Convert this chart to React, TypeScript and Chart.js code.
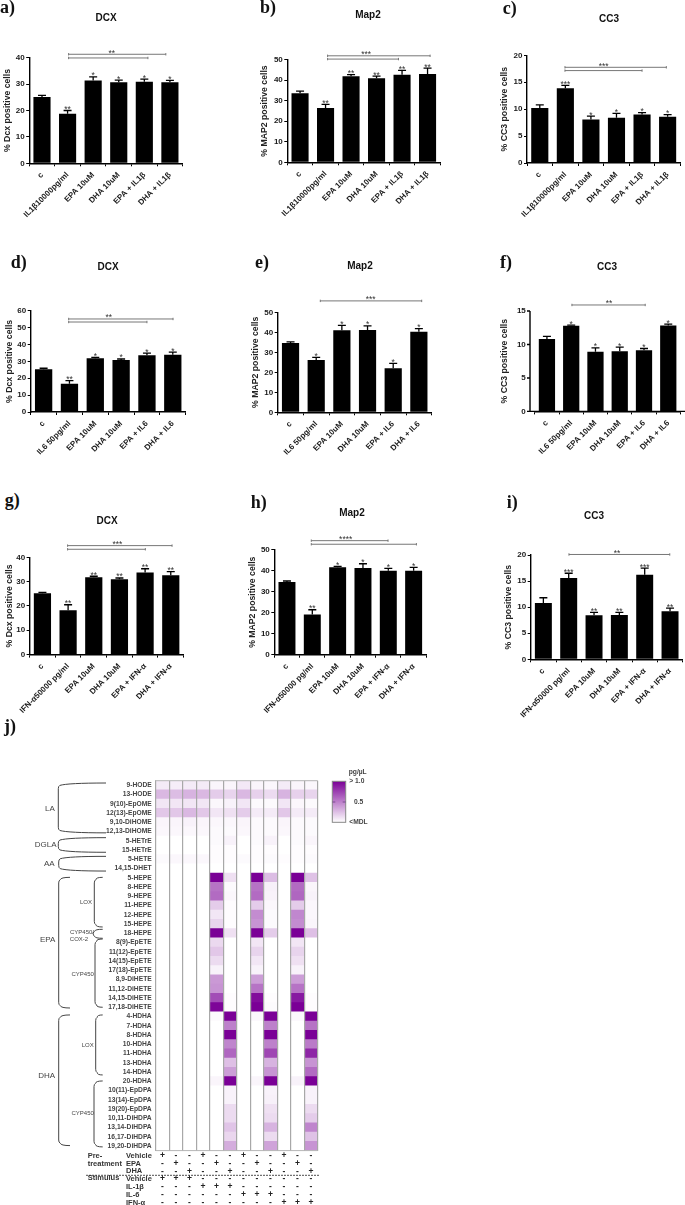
import React, { useEffect, useRef } from "react";
import { Chart, registerables } from "chart.js";

Chart.register(...registerables);
Chart.defaults.font.family = "'Liberation Sans', Arial, sans-serif";

// ---------- bar chart data ----------
const il1Labels = ["c", "IL1β10000pg/ml", "EPA 10uM", "DHA 10uM", "EPA + IL1β", "DHA + IL1β"];
const il6Labels = ["c", "IL6 50pg/ml", "EPA 10uM", "DHA 10uM", "EPA + IL6", "DHA + IL6"];
const ifnLabels = ["c", "IFN-α50000 pg/ml", "EPA 10uM", "DHA 10uM", "EPA + IFN-α", "DHA + IFN-α"];

const aValues = [25.1, 18.8, 31.4, 30.7, 30.9, 30.7];
const aErrorTops = [25.7, 20, 32.7, 31.5, 31.9, 31.4];
const aStars = ["", "**", "*", "*", "*", "*"];
const aBrackets = [[1.04, 4.84, 41.3], [1.04, 4.14, 39.9]];

const bValues = [33.6, 26.5, 41.9, 40.9, 42.7, 43];
const bErrorTops = [34.7, 28.2, 42.7, 42, 44.8, 45.9];
const bStars = ["", "**", "**", "**", "**", "**"];
const bBrackets = [[1.08, 5.1, 51.9], [1.08, 3.86, 50.3]];

const cValues = [10.2, 13.9, 8.1, 8.4, 9, 8.6];
const cErrorTops = [10.8, 14.4, 8.7, 9.2, 9.35, 9];
const cStars = ["", "***", "*", "*", "*", "*"];
const cBrackets = [[0.985, 4.95, 17.77], [0.985, 4, 17.16]];

const dValues = [25.3, 16.8, 31.8, 30.8, 33.6, 33.9];
const dErrorTops = [25.9, 18.6, 32.4, 31.4, 34.9, 35.5];
const dStars = ["", "**", "*", "*", "*", "*"];
const dBrackets = [[0.97, 5.01, 55.1], [0.97, 4, 53.3]];

const eValues = [34.7, 26.2, 41, 41.2, 22, 40.3];
const eErrorTops = [35.2, 27.5, 43.5, 43.2, 24.5, 41.8];
const eStars = ["", "*", "*", "*", "*", "*"];
const eBrackets = [[1.16, 5.11, 55.7]];

const fValues = [10.8, 12.8, 8.9, 9, 9.15, 12.85];
const fErrorTops = [11.2, 12.9, 9.5, 9.6, 9.4, 13.05];
const fStars = ["", "*", "*", "*", "*", "*"];
const fBrackets = [[1.03, 4.05, 15.9]];

const gValues = [25.2, 18.2, 31.8, 31, 33.7, 32.6];
const gErrorTops = [25.6, 20.5, 32.2, 31.5, 35.3, 34.1];
const gStars = ["", "**", "**", "**", "**", "**"];
const gBrackets = [[0.98, 5.05, 44.8], [0.98, 4.01, 43.3]];

const hValues = [34.6, 19.2, 41.6, 41.3, 40, 40];
const hErrorTops = [35.1, 21.4, 42.1, 43.3, 41.1, 41.6];
const hStars = ["", "**", "*", "*", "*", "*"];
const hBrackets = [[0.96, 3.99, 54.3], [0.96, 5.11, 52.6]];

const iValues = [10.8, 15.6, 8.43, 8.5, 16.2, 9.2];
const iErrorTops = [11.8, 16.5, 9, 9, 17.5, 9.8];
const iStars = ["", "***", "**", "**", "***", "**"];
const iBrackets = [[1.01, 4.99, 20.1]];

// ---------- heatmap data ----------
const lipids = [
  "9-HODE", "13-HODE", "9(10)-EpOME", "12(13)-EpOME", "9,10-DiHOME", "12,13-DiHOME",
  "5-HETrE", "15-HETrE", "5-HETE", "14,15-DHET",
  "5-HEPE", "8-HEPE", "9-HEPE", "11-HEPE", "12-HEPE", "15-HEPE", "18-HEPE",
  "8(9)-EpETE", "11(12)-EpETE", "14(15)-EpETE", "17(18)-EpETE",
  "8,9-DiHETE", "11,12-DiHETE", "14,15-DiHETE", "17,18-DiHETE",
  "4-HDHA", "7-HDHA", "8-HDHA", "10-HDHA", "11-HDHA", "13-HDHA", "14-HDHA", "20-HDHA",
  "10(11)-EpDPA", "13(14)-EpDPA", "19(20)-EpDPA", "10,11-DiHDPA", "13,14-DiHDPA", "16,17-DiHDPA", "19,20-DiHDPA",
];
const vehVeh = [.08,.28,.1,.22,.04,.03,0,0,.02,0, 0,0,0,0,0,0,0, 0,0,0,0, 0,0,0,0, 0,0,0,0,0,0,0,0, 0,0,0,0,0,0,0];
const epaVeh = [.07,.26,.1,.22,.04,.03,0,0,.03,0, 0,0,0,0,0,0,0, 0,0,0,0, 0,0,0,0, 0,0,0,0,0,0,0,0, 0,0,0,0,0,0,0];
const dhaVeh = [.08,.3,.1,.28,.05,.03,0,0,.03,0, 0,0,0,0,0,0,0, 0,0,0,0, 0,0,0,0, 0,0,0,0,0,0,0,0, 0,0,0,0,0,0,0];
const vehIl1 = [.08,.28,.1,.22,.04,.03,0,0,.03,0, 0,0,0,0,0,0,0, 0,0,0,0, 0,0,0,0, 0,0,0,0,0,0,0,0, 0,0,0,0,0,0,0];
const epaIl1 = [.04,.2,.03,.1,.03,.02,.02,.01,.01,0, 1,.55,.58,.2,.1,.17,1, .15,.22,.14,.05, .4,.42,.7,.98, .02,0,0,0,0,0,0,.04, 0,0,0,0,0,0,0];
const dhaIl1 = [.04,.17,.05,.12,.03,.02,.05,.01,.01,0, .12,.02,.03,.01,.01,.01,.12, 0,0,0,0, 0,0,.01,.01, 1,.5,1,.48,.6,.25,.38,1, .05,.05,.14,.14,.23,.16,.32];
const vehIl6 = [.09,.28,.1,.2,.04,.03,0,0,.02,0, 0,0,0,0,0,0,0, 0,0,0,0, 0,0,0,0, 0,0,0,0,0,0,0,0, 0,0,0,0,0,0,0];
const epaIl6 = [.04,.18,.02,.08,.02,.02,.02,.01,.01,0, 1,.55,.58,.2,.45,.42,1, .1,.17,.1,.05, .38,.55,.95,1, .03,0,0,0,0,0,0,.04, 0,0,0,0,0,0,0];
const dhaIl6 = [.03,.14,.02,.08,.02,.02,.05,.01,.02,0, .26,.06,.05,.03,.02,.02,.2, 0,0,0,0, 0,0,.01,.02, 1,.5,1,.5,.72,.3,.42,1, .05,.06,.12,.14,.3,.14,.36];
const vehIfn = [.08,.3,.1,.22,.04,.03,0,0,.01,0, 0,0,0,0,0,0,0, 0,0,0,0, 0,0,0,0, 0,0,0,0,0,0,0,0, 0,0,0,0,0,0,0];
const epaIfn = [.04,.18,.03,.08,.02,.02,.02,.01,.01,0, 1,.58,.6,.2,.47,.45,1, .1,.17,.12,.05, .38,.55,.9,1, .03,0,0,0,0,0,0,.05, 0,0,0,0,0,0,0];
const dhaIfn = [.03,.17,.02,.08,.02,.02,.04,.01,.02,0, .24,.04,.05,.03,.03,.04,.25, 0,0,0,0, 0,0,.01,.01, 1,.55,1,.52,.85,.42,.58,1, .05,.05,.14,.2,.48,.24,.42];
const heatColumns = [vehVeh, epaVeh, dhaVeh, vehIl1, epaIl1, dhaIl1, vehIl6, epaIl6, dhaIl6, vehIfn, epaIfn, dhaIfn];

const treatmentRows = [
  ["Vehicle", "+--+--+--+--"],
  ["EPA", "-+--+--+--+-"],
  ["DHA", "--+--+--+--+"],
  ["Vehicle", "+++---------"],
  ["IL-1β", "---+++------"],
  ["IL-6", "------+++---"],
  ["IFN-α", "---------+++"],
];

// ---------- layout of the bar panels ----------
const TEXT = "#1a1a1a";
const CANVAS_W = 280;
const X_BOX = 70;

type Spec = {
  letter: string; letterX: number; letterY: number;
  title: string; titleX: number; titleY: number;
  yLabel: string; yLabelX: number;
  labels: string[]; values: number[]; tops: number[]; stars: string[];
  brackets: number[][]; starsAt: number; bracketStars: string; yMax: number; step: number;
  left: number; right: number; top: number; bottom: number;
  inset?: number;
};

const panels: Spec[] = [
  { letter: "a)", letterX: 0, letterY: 7, title: "DCX", titleX: 106.3, titleY: 18, yLabel: "% Dcx positive cells", yLabelX: 8.3, labels: il1Labels, values: aValues, tops: aErrorTops, stars: aStars, brackets: aBrackets, starsAt: 2.73, bracketStars: "**", yMax: 40, step: 10, left: 29.5, right: 183, top: 57.7, bottom: 163.3 },
  { letter: "b)", letterX: 260, letterY: 7, title: "Map2", titleX: 367.7, titleY: 15, yLabel: "% MAP2 positive cells", yLabelX: 264.3, labels: il1Labels, values: bValues, tops: bErrorTops, stars: bStars, brackets: bBrackets, starsAt: 2.59, bracketStars: "***", yMax: 50, step: 10, left: 287, right: 440, top: 59.7, bottom: 162.3 },
  { letter: "c)", letterX: 502.7, letterY: 8, title: "CC3", titleX: 609.3, titleY: 18.7, yLabel: "% CC3 positive cells", yLabelX: 505, labels: il1Labels, values: cValues, tops: cErrorTops, stars: cStars, brackets: cBrackets, starsAt: 2.5, bracketStars: "***", yMax: 20, step: 5, left: 527.3, right: 680.7, top: 55, bottom: 162.7 },
  { letter: "d)", letterX: 10.7, letterY: 261.7, title: "DCX", titleX: 108.3, titleY: 267.3, yLabel: "% Dcx positive cells", yLabelX: 10.3, labels: il6Labels, values: dValues, tops: dErrorTops, stars: dStars, brackets: dBrackets, starsAt: 2.52, bracketStars: "**", yMax: 60, step: 10, left: 31, right: 186, top: 311, bottom: 412.3 },
  { letter: "e)", letterX: 255, letterY: 261.7, title: "Map2", titleX: 360, titleY: 266, yLabel: "% MAP2 positive cells", yLabelX: 255.7, labels: il6Labels, values: eValues, tops: eErrorTops, stars: eStars, brackets: eBrackets, starsAt: 3.12, bracketStars: "***", yMax: 50, step: 10, left: 277.7, right: 431.7, top: 312.3, bottom: 412.3 },
  { letter: "f)", letterX: 500, letterY: 261.7, title: "CC3", titleX: 607, titleY: 267.3, yLabel: "% CC3 positive cells", yLabelX: 505, labels: il6Labels, values: fValues, tops: fErrorTops, stars: fStars, brackets: fBrackets, starsAt: 2.56, bracketStars: "**", yMax: 15, step: 5, left: 534.8, right: 680.4, top: 311.3, bottom: 411.7, inset: 4.8 },
  { letter: "g)", letterX: 4.7, letterY: 500, title: "DCX", titleX: 106.7, titleY: 520.7, yLabel: "% Dcx positive cells", yLabelX: 9.3, labels: ifnLabels, values: gValues, tops: gErrorTops, stars: gStars, brackets: gBrackets, starsAt: 2.92, bracketStars: "***", yMax: 40, step: 10, left: 29.3, right: 183.3, top: 557, bottom: 654.3 },
  { letter: "h)", letterX: 250.7, letterY: 501.7, title: "Map2", titleX: 351.7, titleY: 513, yLabel: "% MAP2 positive cells", yLabelX: 252.3, labels: ifnLabels, values: hValues, tops: hErrorTops, stars: hStars, brackets: hBrackets, starsAt: 2.32, bracketStars: "****", yMax: 50, step: 10, left: 274, right: 426, top: 549.7, bottom: 654.7 },
  { letter: "i)", letterX: 506.7, letterY: 501.7, title: "CC3", titleX: 594.3, titleY: 516, yLabel: "% CC3 positive cells", yLabelX: 509, labels: ifnLabels, values: iValues, tops: iErrorTops, stars: iStars, brackets: iBrackets, starsAt: 2.91, bracketStars: "**", yMax: 20, step: 5, left: 531, right: 683, top: 555, bottom: 659.3 },
];

function overlayPlugin(s: Spec, canvasLeft: number, canvasTop: number) {
  return {
    id: "overlay",
    afterDraw(chart: any) {
      const { ctx, scales } = chart;
      const x = scales.x, y = scales.y;
      ctx.save();
      // panel heading
      ctx.fillStyle = "#111";
      ctx.font = "bold 10px 'Liberation Sans'";
      ctx.textAlign = "center";
      ctx.textBaseline = "middle";
      ctx.fillText(s.title, s.titleX - canvasLeft, s.titleY - canvasTop);
      // error bars and stars
      s.values.forEach((v, i) => {
        const px = x.getPixelForValue(i);
        const base = y.getPixelForValue(v);
        const top = y.getPixelForValue(s.tops[i]);
        ctx.strokeStyle = "#000";
        ctx.lineWidth = 1.3;
        ctx.beginPath();
        ctx.moveTo(px, base); ctx.lineTo(px, top);
        ctx.moveTo(px - 4, top); ctx.lineTo(px + 4, top);
        ctx.stroke();
        if (s.stars[i]) {
          ctx.fillStyle = "#333";
          ctx.font = "8.5px 'Liberation Sans'";
          ctx.textAlign = "center";
          ctx.textBaseline = "alphabetic";
          ctx.fillText(s.stars[i], px, top + 1.5);
        }
      });
      // significance brackets
      let topMost = Infinity;
      s.brackets.forEach(([from, to, val]) => {
        const x0 = x.getPixelForValue(from), x1 = x.getPixelForValue(to), py = y.getPixelForValue(val);
        topMost = Math.min(topMost, py);
        ctx.strokeStyle = "#777";
        ctx.lineWidth = 1;
        ctx.beginPath();
        ctx.moveTo(x0, py); ctx.lineTo(x1, py);
        ctx.moveTo(x0, py - 1.2); ctx.lineTo(x0, py + 1.2);
        ctx.moveTo(x1, py - 1.2); ctx.lineTo(x1, py + 1.2);
        ctx.stroke();
      });
      ctx.fillStyle = "#333";
      ctx.font = "8.5px 'Liberation Sans'";
      ctx.textAlign = "center";
      ctx.textBaseline = "alphabetic";
      ctx.fillText(s.bracketStars, x.getPixelForValue(s.starsAt), topMost + 1.5);
      // axis lines set apart from the first bar
      if (s.inset) {
        const left = chart.chartArea.left - s.inset;
        const right = chart.chartArea.right + s.inset;
        ctx.strokeStyle = "#000";
        ctx.lineWidth = 1.4;
        ctx.beginPath();
        ctx.moveTo(left, y.getPixelForValue(s.yMax)); ctx.lineTo(left, y.getPixelForValue(0));
        ctx.lineTo(right, y.getPixelForValue(0));
        y.ticks.forEach((t: any) => {
          const py = y.getPixelForValue(t.value);
          ctx.moveTo(left - 3, py); ctx.lineTo(left, py);
        });
        ctx.stroke();
      }
      ctx.restore();
    },
  };
}

function BarPanel({ s }: { s: Spec }) {
  const ref = useRef<HTMLCanvasElement>(null);
  const canvasLeft = s.titleX - CANVAS_W / 2;
  const canvasTop = s.titleY - 8;
  const height = Math.ceil(s.bottom + X_BOX - canvasTop);
  const yScaleLeft = s.yLabelX - 5.2;
  useEffect(() => {
    const c = new Chart(ref.current as HTMLCanvasElement, {
      type: "bar",
      data: {
        labels: s.labels,
        datasets: [{ data: s.values, backgroundColor: "#000", borderWidth: 0, barPercentage: 0.67, categoryPercentage: 1 }],
      },
      options: {
        responsive: false,
        animation: false,
        layout: {
          padding: {
            left: yScaleLeft - canvasLeft,
            right: canvasLeft + CANVAS_W - s.right,
            top: s.top - canvasTop,
            bottom: height - (s.bottom + X_BOX - canvasTop),
          },
        },
        plugins: {
          legend: { display: false },
          tooltip: { enabled: false },
          title: { display: false },
        },
        scales: {
          x: {
            afterFit: (sc: any) => { sc.height = X_BOX; },
            border: { color: "#000", width: 1.4 },
            grid: { drawOnChartArea: false, tickLength: 3, tickColor: "#000", tickWidth: 1 },
            ticks: {
              color: TEXT, autoSkip: false, minRotation: 45, maxRotation: 45, padding: 4,
              font: { size: 8, weight: "bold" },
            },
          },
          y: {
            min: 0,
            max: s.yMax,
            afterFit: (sc: any) => { sc.width = s.left - yScaleLeft; },
            border: s.inset ? { display: false } : { color: "#000", width: 1.4 },
            grid: { drawOnChartArea: false, tickLength: 3, tickColor: s.inset ? "transparent" : "#000", tickWidth: 1 },
            ticks: { stepSize: s.step, color: TEXT, padding: s.inset ? 6 : 1.5, font: { size: 8, weight: "bold" } },
            title: {
              display: true, text: s.yLabel, color: "#222", padding: 0,
              font: { size: 8.7, weight: "bold" },
            },
          },
        },
      },
      plugins: [overlayPlugin(s, canvasLeft, canvasTop)],
    } as any);
    return () => c.destroy();
  }, []);
  return (
    <canvas
      ref={ref}
      width={CANVAS_W}
      height={height}
      style={{ position: "absolute", left: canvasLeft, top: canvasTop, width: CANVAS_W, height }}
    />
  );
}

// ---------- heatmap ----------
const HEAT_TOP = 730;
const HEAT_W = 400;
const HEAT_H = 475;

function heatColor(t: number) {
  const r = Math.round(255 + (122 - 255) * t);
  const g = Math.round(255 + (0 - 255) * t);
  const b = Math.round(255 + (150 - 255) * t);
  return `rgb(${r},${g},${b})`;
}

const lipidGroups: [number, number, number, number][] = [
  [-0.25, 5.14, 58.3, 106],
  [5.66, 7.24, 58.3, 106],
  [7.68, 9.27, 58.7, 106],
  [9.95, 24.08, 58.7, 70],
  [9.95, 15.32, 94.3, 102.7],
  [15.57, 16.54, 93.3, 102.7],
  [16.62, 24, 95, 102.7],
  [24.83, 38.96, 58.7, 70],
  [24.83, 31.32, 95.7, 102.7],
  [31.97, 39.1, 94, 102.7],
];

const groupLabels: [string, number, number, number][] = [
  ["LA", 50, 808.3, 8], ["DGLA", 45.7, 845, 8], ["AA", 49.3, 864, 8], ["EPA", 47.7, 940, 8], ["DHA", 46.7, 1075.7, 8],
  ["LOX", 86, 902.7, 6], ["CYP450/", 82, 932.3, 6], ["COX-2", 79, 939.7, 6], ["CYP450", 82.7, 974.3, 6],
  ["LOX", 87.7, 1045, 6], ["CYP450", 82.7, 1113, 6],
];

const heatPlugin = {
  id: "heatExtras",
  afterDraw(chart: any) {
    const { ctx, scales, chartArea } = chart;
    const yS = scales.y, xS = scales.x;
    const Y = (py: number) => py - HEAT_TOP;
    ctx.save();
    // top and bottom edges of the grid
    ctx.strokeStyle = "#b5b5b5";
    ctx.lineWidth = 1;
    ctx.beginPath();
    ctx.moveTo(chartArea.left, chartArea.top); ctx.lineTo(chartArea.right, chartArea.top);
    ctx.moveTo(chartArea.left, chartArea.bottom); ctx.lineTo(chartArea.right, chartArea.bottom);
    ctx.stroke();
    // group brackets
    ctx.strokeStyle = "#444";
    ctx.lineWidth = 1;
    lipidGroups.forEach(([a, b, xl, xr]) => {
      const y0 = yS.getPixelForValue(a), y1 = yS.getPixelForValue(b);
      const bend = Math.min(4, (y1 - y0) / 3);
      ctx.beginPath();
      ctx.moveTo(xr, y0);
      ctx.quadraticCurveTo(xl + (xr - xl) * 0.2, y0, xl + 1.5, y0 + bend * 0.6);
      ctx.quadraticCurveTo(xl, y0 + bend * 0.8, xl, y0 + bend * 1.4);
      ctx.lineTo(xl, y1 - bend * 1.4);
      ctx.quadraticCurveTo(xl, y1 - bend * 0.8, xl + 1.5, y1 - bend * 0.6);
      ctx.quadraticCurveTo(xl + (xr - xl) * 0.2, y1, xr, y1);
      ctx.stroke();
    });
    ctx.fillStyle = "#444";
    ctx.textAlign = "center";
    ctx.textBaseline = "middle";
    groupLabels.forEach(([t, x, y, size]) => {
      ctx.font = `${size}px 'Liberation Sans Narrow', 'Liberation Sans'`;
      ctx.fillText(t, x, Y(y));
    });
    // colour key
    const keyX = 332.3, keyW = 13.4, keyTop = Y(781.3), keyBottom = Y(822.3);
    const grad = ctx.createLinearGradient(0, keyTop, 0, keyBottom);
    grad.addColorStop(0, heatColor(1));
    grad.addColorStop(0.5, heatColor(0.5));
    grad.addColorStop(1, heatColor(0));
    ctx.fillStyle = grad;
    ctx.fillRect(keyX, keyTop, keyW, keyBottom - keyTop);
    ctx.strokeStyle = "#888";
    ctx.strokeRect(keyX, keyTop, keyW, keyBottom - keyTop);
    ctx.strokeStyle = "#7a4a90";
    ctx.beginPath();
    ctx.moveTo(keyX, Y(802)); ctx.lineTo(keyX + 3, Y(802));
    ctx.moveTo(keyX + keyW - 3, Y(802)); ctx.lineTo(keyX + keyW, Y(802));
    ctx.stroke();
    ctx.fillStyle = "#444";
    ctx.font = "bold 6.7px 'Liberation Sans'";
    ctx.textAlign = "center";
    ctx.fillText("pg/µL", 357.7, Y(771.7));
    ctx.textAlign = "left";
    ctx.fillText("> 1.0", 349.3, Y(781.5));
    ctx.fillText("0.5", 354, Y(802));
    ctx.fillText("<MDL", 349.3, Y(822));
    // treatment table
    const rowY = [1155.7, 1163.7, 1171.3, 1179, 1187, 1194.7, 1202.7];
    ctx.fillStyle = "#333";
    ctx.font = "bold 7.5px 'Liberation Sans'";
    ctx.fillText("Pre-", 87.7, Y(1155.7));
    ctx.fillText("treatment", 87.7, Y(1163.7));
    ctx.fillText("Stimulus", 87.7, Y(1178.3));
    treatmentRows.forEach(([name, signs], r) => {
      ctx.textAlign = "left";
      ctx.font = "bold 7.5px 'Liberation Sans'";
      ctx.fillStyle = "#333";
      ctx.fillText(name, 126, Y(rowY[r]));
      ctx.textAlign = "center";
      ctx.font = "bold 8.5px 'Liberation Sans'";
      ctx.fillStyle = "#222";
      signs.split("").forEach((sign, c) => {
        ctx.fillText(sign, xS.getPixelForValue(c + 0.5), Y(rowY[r]));
      });
    });
    ctx.strokeStyle = "#222";
    ctx.lineWidth = 0.8;
    ctx.setLineDash([2, 1]);
    ctx.beginPath();
    ctx.moveTo(86, Y(1175.3)); ctx.lineTo(319, Y(1175.3));
    ctx.stroke();
    ctx.restore();
  },
};

function HeatPanel() {
  const ref = useRef<HTMLCanvasElement>(null);
  useEffect(() => {
    const c = new Chart(ref.current as HTMLCanvasElement, {
      type: "bar",
      data: {
        labels: lipids,
        datasets: heatColumns.map((col) => ({
          data: col.map(() => 1),
          backgroundColor: col.map(heatColor),
          borderWidth: 0,
          barPercentage: 1,
          categoryPercentage: 1,
          stack: "cells",
        })),
      },
      options: {
        indexAxis: "y",
        responsive: false,
        animation: false,
        layout: {
          padding: { left: 0, right: HEAT_W - 317.7, top: 780.7 - HEAT_TOP, bottom: HEAT_H - (1150.6 - HEAT_TOP) },
        },
        plugins: { legend: { display: false }, tooltip: { enabled: false }, title: { display: false } },
        scales: {
          x: {
            stacked: true,
            min: 0,
            max: 12,
            afterFit: (sc: any) => { sc.height = 0; },
            border: { display: false },
            grid: { color: "#a8a8a8", lineWidth: 1.2, z: 1, drawTicks: false },
            ticks: { display: false, stepSize: 1 },
          },
          y: {
            stacked: true,
            afterFit: (sc: any) => { sc.width = 155.7; },
            border: { color: "#bbb", width: 1 },
            grid: { display: false, drawTicks: false },
            ticks: { autoSkip: false, color: "#444", padding: 4, font: { size: 6.7, weight: "bold" } },
          },
        },
      },
      plugins: [heatPlugin],
    } as any);
    return () => c.destroy();
  }, []);
  return (
    <canvas
      ref={ref}
      width={HEAT_W}
      height={HEAT_H}
      style={{ position: "absolute", left: 0, top: HEAT_TOP, width: HEAT_W, height: HEAT_H }}
    />
  );
}

const letterStyle: React.CSSProperties = {
  position: "absolute",
  font: "bold 18px/18px 'Liberation Serif', serif",
  color: "#111",
  whiteSpace: "pre",
};

export default function App() {
  return (
    <div style={{ position: "absolute", left: 0, top: 0, width: 685, height: 1205, overflow: "hidden", background: "#fff" }}>
      {panels.map((s) => (
        <BarPanel key={s.letter} s={s} />
      ))}
      <HeatPanel />
      {panels.map((s) => (
        <div key={s.letter} style={{ ...letterStyle, left: s.letterX, top: s.letterY - 9 }}>{s.letter}</div>
      ))}
      <div style={{ ...letterStyle, left: 4, top: 717 }}>j)</div>
    </div>
  );
}
